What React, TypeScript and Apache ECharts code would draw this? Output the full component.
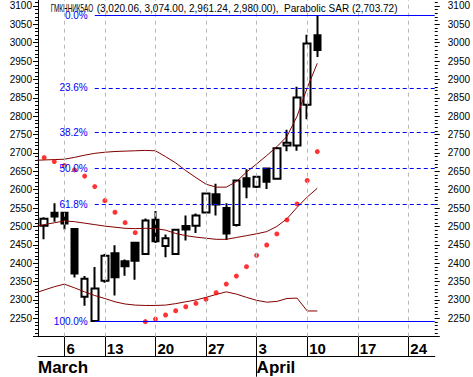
import React, { useEffect, useRef } from 'react';
import * as echarts from 'echarts';

// Trading days (Mar 1 .. Apr 26, 2006; Mar 8 holiday)
const days = ['2006-03-01','2006-03-02','2006-03-03','2006-03-06','2006-03-07','2006-03-09','2006-03-10',
  '2006-03-13','2006-03-14','2006-03-15','2006-03-16','2006-03-17',
  '2006-03-20','2006-03-21','2006-03-22','2006-03-23','2006-03-24',
  '2006-03-27','2006-03-28','2006-03-29','2006-03-30','2006-03-31',
  '2006-04-03','2006-04-04','2006-04-05','2006-04-06','2006-04-07',
  '2006-04-10','2006-04-11','2006-04-12','2006-04-13','2006-04-14',
  '2006-04-17','2006-04-18','2006-04-19','2006-04-20','2006-04-21',
  '2006-04-24','2006-04-25','2006-04-26'];

const open  = [null, 2502, 2537, 2537, 2493, 2309, 2243, 2352, 2427, 2405, 2456, 2425, 2518, 2447, 2425, 2501, 2502, 2538, 2588, 2550, 2504, 2631, 2608, 2658, 2630, 2720, 2720, 2831, 3020.06];
const close = [null, 2521, 2527, 2508, 2372, 2358, 2331, 2420, 2362, 2392, 2407, 2516, 2460, 2468, 2491, 2492, 2530, 2590, 2560, 2481, 2625, 2609, 2635, 2622, 2713, 2728, 2851, 2998, 2980.00];
const high  = [null, 2525, 2563, 2540, 2493, 2365, 2390, 2425, 2449, 2410, 2457, 2522, 2542, 2478, 2492, 2530, 2535, 2592, 2616, 2563, 2628, 2656, 2637, 2660, 2716, 2763, 2880, 3022, 3074.00];
const low   = [null, 2465, 2513, 2492, 2361, 2284, 2241, 2347, 2312, 2366, 2355, 2422, 2455, 2416, 2423, 2462, 2482, 2535, 2530, 2463, 2500, 2577, 2605, 2602, 2628, 2705, 2706, 2792, 2961.24];

const sar = [null, 2687.5, 2676.6, 2665.7, 2654, 2637, 2608.5, 2570.3, 2538.7, 2510.4, 2483, 2241, 2248, 2259, 2270.6, 2281.5, 2290.7, 2301.6, 2319.6, 2343.3, 2365, 2390.5, 2421.5, 2449.6, 2479.6, 2517.7, 2561.3, 2625, 2703.72];

const bandUpper  = [2680, 2681, 2682, 2683, 2688, 2694, 2699, 2702, 2704, 2705, 2706, 2707, 2706, 2690, 2673, 2652, 2633, 2615, 2607, 2607, 2622, 2648, 2670, 2693, 2717, 2745, 2800, 2877, 2944];
const bandMiddle = [2499, 2505, 2510, 2515, 2513, 2509, 2505, 2501, 2498, 2495, 2494, 2495, 2494, 2490, 2481, 2475, 2471, 2468, 2465, 2465, 2470, 2475, 2480, 2486, 2500, 2521, 2552, 2580, 2604];
const bandLower  = [2318, 2327, 2336, 2343, 2333, 2322, 2312, 2304, 2295, 2289, 2286, 2285, 2285, 2286, 2290, 2295, 2300, 2307, 2315, 2322, 2316, 2307, 2299, 2294, 2296, 2304, 2305, 2270, 2270];

const fibRatios = [0, 23.6, 38.2, 50, 61.8, 100];
const monthNames = ['January','February','March','April','May','June','July','August','September','October','November','December'];
const tickerName = 'ГМКННИК5АО';

// price axis ticks
const Y_MIN = 2200;
const Y_MAX = 3116.3;
const majorTicks = [2200, 2250, 2300, 2350, 2400, 2450, 2500, 2550, 2600, 2650, 2700, 2750, 2800, 2850, 2900, 2950, 3000, 3050, 3100];
const tickLabels = majorTicks.filter((v) => v > Y_MIN);
const minorStep = 10;

const X_MIN = 0.39;
const X_MAX = 39.61;
const FONT = '"Liberation Sans", Arial, sans-serif';

function fmt(v: number) {
  return v.toLocaleString('en-US', { minimumFractionDigits: 2, maximumFractionDigits: 2 });
}

function buildOption() {
  const dt = days.map((d) => new Date(d + 'T00:00:00Z'));
  const mondays = dt.map((d, i) => (d.getUTCDay() === 1 ? i : -1)).filter((i) => i >= 0);
  const monthStarts = dt.map((d, i) => (i > 0 && d.getUTCMonth() !== dt[i - 1].getUTCMonth() ? i : -1)).filter((i) => i >= 0);

  const minorTicks: number[] = [];
  for (let v = Y_MIN; v <= Y_MAX; v += minorStep) minorTicks.push(v);

  const candles: number[][] = [];
  open.forEach((o, i) => {
    if (o != null) candles.push([i, o as number, close[i] as number, low[i] as number, high[i] as number]);
  });
  const sarData: number[][] = [];
  sar.forEach((v, i) => { if (v != null) sarData.push([i, v as number]); });

  let fibHigh = -Infinity, fibLow = Infinity, lowIdx = 0;
  high.forEach((h) => { if (h != null && h > fibHigh) fibHigh = h; });
  low.forEach((l, i) => { if (l != null && l < fibLow) { fibLow = l; lowIdx = i; } });

  const last = candles[candles.length - 1];
  const lastSar = sarData[sarData.length - 1][1];

  const bandSeries = (vals: number[]) => ({
    type: 'line',
    data: vals.map((v, i) => [i, v]),
    showSymbol: false,
    symbol: 'none',
    lineStyle: { color: '#800000', width: 1 },
    z: 3,
    silent: true,
  });

  const fibLines = fibRatios.map((r) => {
    const level = fibHigh - (r / 100) * (fibHigh - fibLow);
    const solid = r === 0 || r === 100;
    return [
      { name: r.toFixed(1) + '%', coord: [lowIdx, level], lineStyle: { type: solid ? 'solid' : [4, 3] } },
      { coord: [X_MAX, level] },
    ];
  });

  const majorAxis = (position: string, margin: number, showLine: boolean) => ({
    type: 'value', position, min: Y_MIN, max: Y_MAX,
    axisLine: { show: showLine, lineStyle: { color: '#000', width: 1 } },
    axisTick: { show: true, customValues: majorTicks, length: 5, lineStyle: { color: '#000' } },
    axisLabel: {
      customValues: tickLabels, margin, fontSize: 10, color: '#000',
      formatter: (v: number) => String(Math.round(v)),
    },
    splitLine: { show: false },
  });
  const minorAxis = (position: string) => ({
    type: 'value', position, min: Y_MIN, max: Y_MAX,
    axisLine: { show: false },
    axisTick: { show: true, customValues: minorTicks, length: 3, lineStyle: { color: '#000' } },
    axisLabel: { show: false },
    splitLine: { show: false },
  });

  return {
    animation: false,
    backgroundColor: '#ffffff',
    textStyle: { fontFamily: FONT },
    grid: { left: 38, right: 37, top: 0, bottom: 40.3 },
    graphic: [
      {
        type: 'text', x: 50.7, y: 8.8, scaleX: 0.58, silent: true,
        style: { text: tickerName, fontSize: 11, fontFamily: FONT, fill: '#000', verticalAlign: 'middle' },
      },
      {
        type: 'text', x: 96.7, y: 8.8, silent: true,
        style: {
          text: `(${fmt(last[1])}, ${fmt(last[4])}, ${fmt(last[3])}, ${fmt(last[2])}),  Parabolic SAR (${fmt(lastSar)})`,
          fontSize: 10, fontFamily: FONT, fill: '#000', verticalAlign: 'middle',
        },
      },
    ],
    xAxis: [
      {
        type: 'value', min: X_MIN, max: X_MAX, position: 'bottom',
        axisLine: { show: true, onZero: false, lineStyle: { color: '#000', width: 1 } },
        axisTick: { show: true, customValues: mondays, length: 20, inside: false, lineStyle: { color: '#000', width: 1 } },
        axisLabel: {
          customValues: mondays, align: 'left', margin: 4, fontSize: 15, fontWeight: 'bold', color: '#000',
          padding: [0, 0, 0, 2],
          formatter: (v: number) => String(dt[Math.round(v)].getUTCDate()),
        },
        splitLine: { show: false },
      },
      {
        type: 'value', min: X_MIN, max: X_MAX, position: 'bottom', offset: 20,
        axisLine: { show: true, onZero: false, lineStyle: { color: '#000', width: 1 } },
        axisTick: { show: true, customValues: monthStarts, length: 20, inside: false, lineStyle: { color: '#000', width: 1 } },
        axisLabel: {
          customValues: [X_MIN, ...monthStarts], align: 'left', margin: 2, fontSize: 17, fontWeight: 'bold', color: '#000',
          formatter: (v: number) => monthNames[dt[Math.max(0, Math.round(v))].getUTCMonth()],
        },
        splitLine: { show: false },
      },
    ],
    yAxis: [
      majorAxis('left', 6, true),
      majorAxis('right', 13, false),
      minorAxis('left'),
      minorAxis('right'),
    ],
    series: [
      {
        type: 'line', data: [], z: 1, silent: true,
        markLine: {
          silent: true, symbol: ['none', 'none'], animation: false,
          label: { show: false },
          lineStyle: { color: '#b8b8b8', type: [4, 4], width: 1 },
          data: mondays.map((i) => ({ xAxis: i })),
        },
      },
      {
        type: 'candlestick',
        data: candles,
        encode: { x: 0, y: [1, 2, 3, 4] },
        barWidth: 7,
        z: 2,
        silent: true,
        itemStyle: { color: '#ffffff', color0: '#000000', borderColor: '#000000', borderColor0: '#000000', borderWidth: 2 },
      },
      bandSeries(bandUpper),
      bandSeries(bandMiddle),
      bandSeries(bandLower),
      {
        type: 'scatter', data: sarData, symbol: 'circle', symbolSize: 5, z: 4, silent: true,
        itemStyle: { color: '#ff0000' },
      },
      {
        type: 'line', data: [], z: 5, silent: true,
        markLine: {
          silent: true, symbol: ['none', 'none'], animation: false,
          lineStyle: { color: '#0000ff', width: 1 },
          label: { show: true, position: 'start', distance: 7, color: '#0000ff', fontSize: 10, formatter: '{b}' },
          data: fibLines,
        },
      },
    ],
  };
}

export default function App() {
  const ref = useRef<HTMLDivElement>(null);
  useEffect(() => {
    const chart = echarts.init(ref.current!, null, { renderer: 'svg' });
    chart.setOption(buildOption() as any);
    return () => chart.dispose();
  }, []);
  return (
    <div
      ref={ref}
      style={{ position: 'absolute', left: 0, top: 0, width: 473, height: 377, background: '#fff' }}
    />
  );
}
